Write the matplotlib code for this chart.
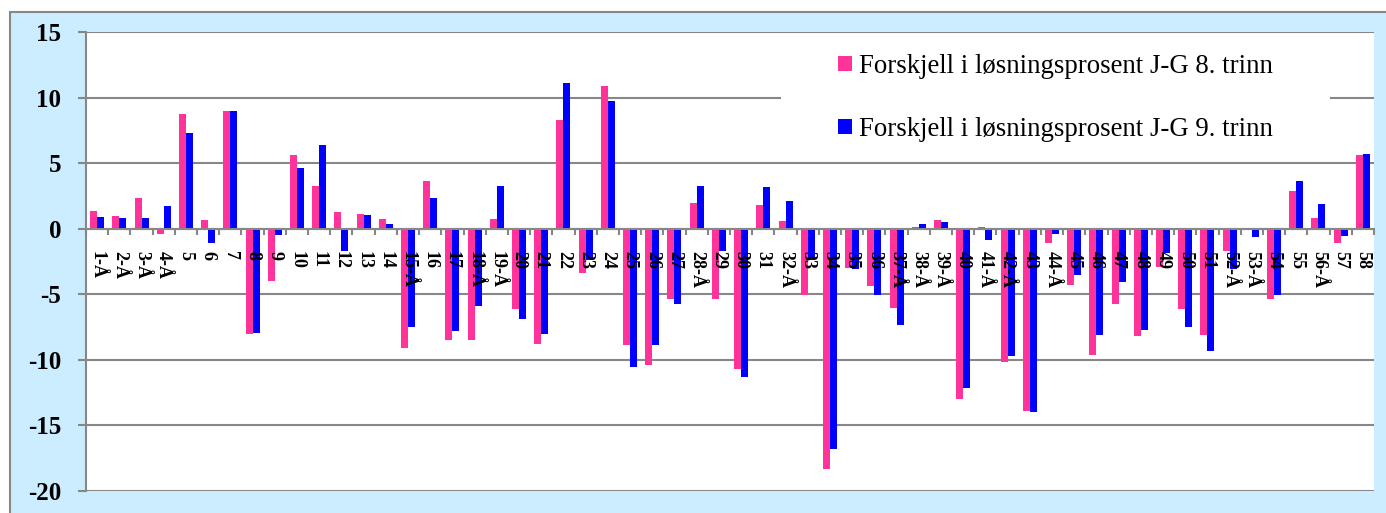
import matplotlib.pyplot as plt
import numpy as np
from matplotlib.patches import Patch, Rectangle

plt.rcParams["font.family"] = ["Liberation Serif", "DejaVu Serif"]
plt.rcParams["axes.unicode_minus"] = False

CATEGORIES = [
    "1-Å", "2-Å", "3-Å", "4-Å", "5", "6", "7", "8", "9", "10",
    "11", "12", "13", "14", "15-Å", "16", "17", "18-Å", "19-Å", "20",
    "21", "22", "23", "24", "25", "26", "27", "28-Å", "29", "30",
    "31", "32-Å", "33", "34", "35", "36", "37-Å", "38-Å", "39-Å", "40",
    "41-Å", "42-Å", "43", "44-Å", "45", "46", "47", "48", "49", "50",
    "51", "52-Å", "53-Å", "54", "55", "56-Å", "57", "58",
]

GRADE_8 = [
    1.35, 0.97, 2.35, -0.4, 8.75, 0.66, 8.98, -8.04, -4.0, 5.62,
    3.26, 1.27, 1.12, 0.74, -9.1, 3.64, -8.5, -8.5, 0.74, -6.13,
    -8.8, 8.3, -3.35, 10.9, -8.88, -10.4, -5.37, 1.96, -5.37, -10.7,
    1.8, 0.59, -5.06, -18.35, -3.0, -4.38, -6.06, 0.1, 0.66, -13.0,
    0.1, -10.18, -13.92, -1.1, -4.3, -9.64, -5.75, -8.19, -2.9, -6.13,
    -8.12, -1.7, 0.0, -5.37, 2.88, 0.81, -1.1, 5.62,
]

GRADE_9 = [
    0.9, 0.8, 0.8, 1.73, 7.3, -1.1, 8.98, -7.96, -0.48, 4.63,
    6.39, -1.7, 1.04, 0.36, -7.5, 2.34, -7.8, -5.9, 3.26, -6.9,
    -8.04, 11.12, -2.4, 9.75, -10.56, -8.88, -5.75, 3.26, -1.7, -11.3,
    3.18, 2.11, -2.4, -16.8, -3.1, -5.06, -7.35, 0.36, 0.5, -12.16,
    -0.87, -9.72, -14.0, -0.4, -3.54, -8.12, -4.07, -7.74, -1.85, -7.5,
    -9.34, -3.08, -0.65, -5.06, 3.64, 1.88, -0.56, 5.7,
]

LABEL_8 = "Forskjell i løsningsprosent J-G 8. trinn"
LABEL_9 = "Forskjell i løsningsprosent J-G 9. trinn"

PINK = "#FF3399"
BLUE = "#0000FF"
GRID = "#878787"
PANEL = "#CCECFF"

W, H = 1386, 513
fig = plt.figure(figsize=(W / 100, H / 100), dpi=100, facecolor="white")

# light blue chart area with grey frame (runs off the right/bottom edge)
fig.patches.append(
    Rectangle((10 / W, -0.2), 1.2, 1.2 - 12 / H, transform=fig.transFigure,
              facecolor=PANEL, edgecolor=GRID, linewidth=1.5, zorder=-1)
)

ax = fig.add_axes([86 / W, 1 - 491 / H, (1374 - 86) / W, (491 - 32) / H])
ax.set_zorder(1)
ax.set_facecolor("white")

x = np.arange(len(CATEGORIES))
width = 0.315
ax.bar(x - width / 2, GRADE_8, width, color=PINK, zorder=1, label=LABEL_8)
ax.bar(x + width / 2, GRADE_9, width, color=BLUE, zorder=1, label=LABEL_9)

for yv in range(-20, 16, 5):
    ax.axhline(yv, color=GRID, linewidth=1.5, zorder=0.5)

ax.set_xlim(-0.5, len(CATEGORIES) - 0.5)
ax.set_ylim(-20, 15)

for side in ["top", "right"]:
    ax.spines[side].set_visible(False)
ax.spines["left"].set_color(GRID)
ax.spines["left"].set_linewidth(1.5)
ax.spines["bottom"].set_position(("data", 0))
ax.spines["bottom"].set_color(GRID)
ax.spines["bottom"].set_linewidth(1.5)

ax.set_yticks(range(-20, 16, 5))
ax.tick_params(axis="y", length=6, width=1.5, color=GRID, pad=12,
               labelsize=18)
for lab in ax.get_yticklabels():
    lab.set_fontweight("bold")

ax.set_xticks(x)
ax.set_xticklabels(CATEGORIES, rotation=270, fontsize=13, fontweight="bold")
ax.set_xticks(np.arange(-0.5, len(CATEGORIES), 1), minor=True)
ax.tick_params(axis="x", which="major", length=0, pad=16)
ax.tick_params(axis="x", which="minor", length=4, width=1.5, color=GRID,
               direction="out")

# white legend box covering the 10-gridline
ax.add_patch(Rectangle((781 / W, 1 - 158 / H), (1330 - 781) / W, 118 / H,
                       transform=fig.transFigure, facecolor="white",
                       edgecolor="none", zorder=3))
handles = [Patch(facecolor=PINK, label=LABEL_8), Patch(facecolor=BLUE, label=LABEL_9)]
leg = fig.legend(handles=handles, loc="upper left", bbox_to_anchor=(838 / W, 1 - 54 / H),
                 frameon=False, fontsize=19.3, handlelength=0.52, handleheight=0.52,
                 handletextpad=0.25, labelspacing=1.42, borderpad=0, borderaxespad=0)
leg.set_zorder(5)

fig.savefig("out.png", dpi=100, facecolor="white")
